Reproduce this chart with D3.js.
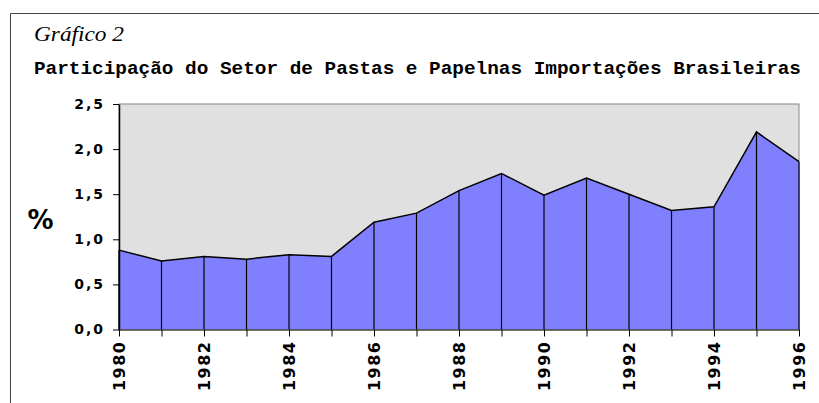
<!DOCTYPE html>
<html>
<head>
<meta charset="utf-8">
<script src="https://cdn.jsdelivr.net/npm/d3@7"></script>
<style>
  body { margin: 0; background: #fff; }
</style>
</head>
<body>
<div id="chart"></div>
<script>
// data
const years = [1980, 1981, 1982, 1983, 1984, 1985, 1986, 1987, 1988,
               1989, 1990, 1991, 1992, 1993, 1994, 1995, 1996];
const share = [0.88, 0.76, 0.81, 0.78, 0.83, 0.81, 1.19, 1.29, 1.54,
               1.73, 1.49, 1.68, 1.50, 1.32, 1.36, 2.19, 1.86];
const yTicks = [0, 0.5, 1.0, 1.5, 2.0, 2.5];
const xLabels = [1980, 1982, 1984, 1986, 1988, 1990, 1992, 1994, 1996];

const W = 819, H = 403;
const plot = { left: 119, right: 799, top: 104, bottom: 329.5 };

const svg = d3.select("#chart").append("svg")
    .attr("width", W)
    .attr("height", H);

// outer frame (only top and left are visible)
svg.append("path")
    .attr("d", `M10.5,${H} V13.5 H${W}`)
    .attr("fill", "none")
    .attr("stroke", "#444")
    .attr("stroke-width", 1);

// titles
svg.append("text")
    .attr("x", 34).attr("y", 41)
    .attr("font-family", "Liberation Serif, serif")
    .attr("font-style", "italic")
    .attr("font-size", 20)
    .attr("textLength", 90)
    .attr("lengthAdjust", "spacingAndGlyphs")
    .text("Gráfico 2");

svg.append("text")
    .attr("x", 34).attr("y", 74)
    .attr("font-family", "Liberation Mono, monospace")
    .attr("font-weight", "bold")
    .attr("font-size", 19)
    .attr("textLength", 767)
    .attr("lengthAdjust", "spacingAndGlyphs")
    .text("Participação do Setor de Pastas e Papelnas Importações Brasileiras");

const x = d3.scaleLinear()
    .domain([1980, 1996])
    .range([plot.left, plot.right]);
const y = d3.scaleLinear()
    .domain([0, 2.5])
    .range([plot.bottom, plot.top]);

// plot background
svg.append("rect")
    .attr("x", plot.left).attr("y", plot.top)
    .attr("width", plot.right - plot.left)
    .attr("height", plot.bottom - plot.top)
    .attr("fill", "#e0e0e0")
    .attr("stroke", "#888");

const data = years.map((yr, i) => ({ year: yr, v: share[i] }));

// area
const area = d3.area()
    .x(d => x(d.year))
    .y0(y(0))
    .y1(d => y(d.v));

svg.append("path")
    .datum(data)
    .attr("d", area)
    .attr("fill", "#8080ff");

// drop lines at every point
svg.append("g")
    .selectAll("line")
    .data(data)
    .join("line")
    .attr("x1", d => x(d.year)).attr("x2", d => x(d.year))
    .attr("y1", y(0)).attr("y2", d => y(d.v))
    .attr("stroke", "#000")
    .attr("stroke-width", 1.2);

// top line
svg.append("path")
    .datum(data)
    .attr("d", d3.line().x(d => x(d.year)).y(d => y(d.v)))
    .attr("fill", "none")
    .attr("stroke", "#000")
    .attr("stroke-width", 1.5);

// Y axis
const yAxis = svg.append("g")
    .attr("transform", `translate(${plot.left},0)`)
    .call(d3.axisLeft(y)
        .tickValues(yTicks)
        .tickSize(6)
        .tickSizeOuter(0)
        .tickPadding(8)
        .tickFormat(d => d3.format(".1f")(d).replace(".", ",")));
yAxis.select(".domain").attr("stroke", "#000").attr("stroke-width", 1.5);
yAxis.selectAll(".tick line").attr("stroke", "#000");
yAxis.selectAll("text")
    .attr("font-family", "DejaVu Sans, sans-serif")
    .attr("font-weight", "bold")
    .attr("font-size", 14)
    .attr("letter-spacing", 2)
    .attr("fill", "#000");

// X axis
const xAxis = svg.append("g")
    .attr("transform", `translate(0,${plot.bottom})`)
    .call(d3.axisBottom(x)
        .tickValues(years)
        .tickSize(7)
        .tickSizeOuter(0)
        .tickFormat(d => xLabels.includes(d) ? d : ""));
xAxis.select(".domain").attr("stroke", "#444").attr("stroke-width", 1.5);
xAxis.selectAll(".tick line").attr("stroke", "#000");
xAxis.selectAll("text")
    .attr("font-family", "DejaVu Sans, sans-serif")
    .attr("font-weight", "bold")
    .attr("font-size", 16)
    .attr("letter-spacing", 1.5)
    .attr("fill", "#000")
    .attr("text-anchor", "end")
    .attr("transform", "rotate(-90)")
    .attr("x", -11)
    .attr("y", 0)
    .attr("dy", "0.35em");

// % label
svg.append("text")
    .attr("x", 40.5).attr("y", 229)
    .attr("text-anchor", "middle")
    .attr("font-family", "DejaVu Sans, sans-serif")
    .attr("font-weight", "bold")
    .attr("font-size", 26)
    .text("%");
</script>
</body>
</html>
